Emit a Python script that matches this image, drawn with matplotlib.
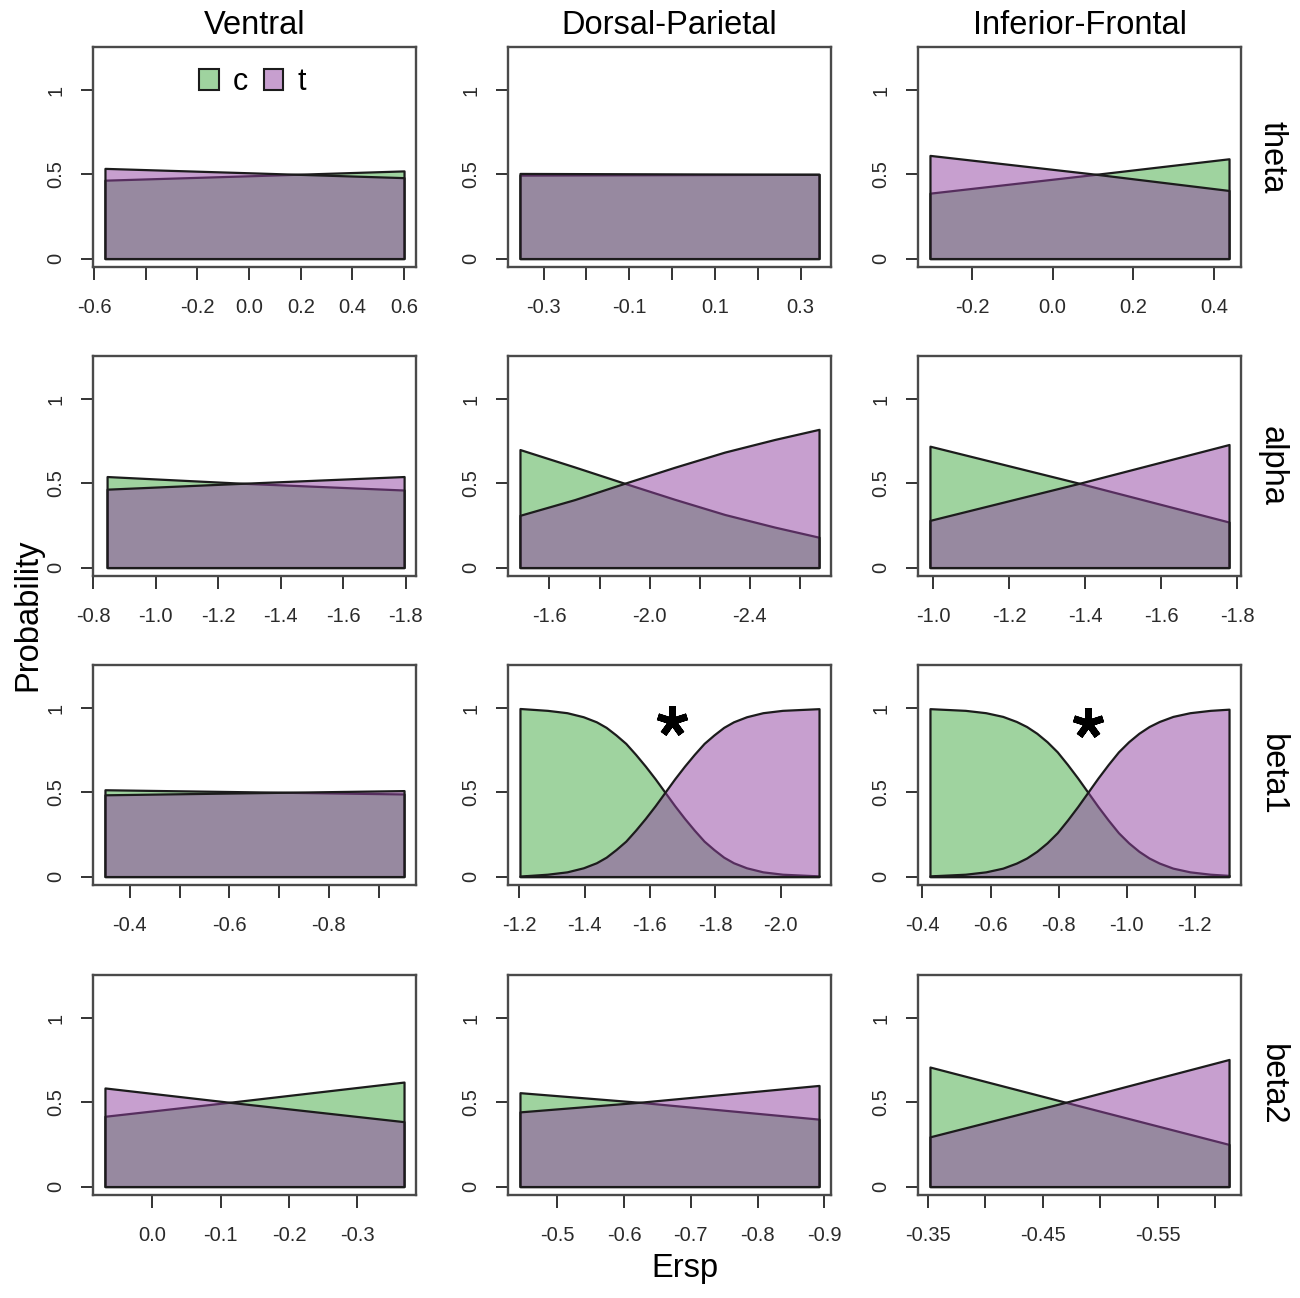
import matplotlib
matplotlib.use('Agg')
import matplotlib.pyplot as plt
from matplotlib.colors import to_rgba
from matplotlib.patches import Patch

plt.rcParams['font.family'] = ['Liberation Sans', 'DejaVu Sans']

regions = ['Ventral', 'Dorsal-Parietal', 'Inferior-Frontal']
bands = ['theta', 'alpha', 'beta1', 'beta2']

# ersp values (left to right as drawn) and P(c), P(t)
# theta
theta_v_x = [-0.558, 0.02, 0.6]
theta_v_c = [0.465, 0.492, 0.52]
theta_v_t = [0.535, 0.508, 0.48]
theta_d_x = [-0.355, 0.343]
theta_d_c = [0.495, 0.50]
theta_d_t = [0.505, 0.50]
theta_i_x = [-0.304, 0.108, 0.4375]
theta_i_c = [0.388, 0.50, 0.592]
theta_i_t = [0.612, 0.50, 0.404]
# alpha
alpha_v_x = [-0.845, -1.28, -1.795]
alpha_v_c = [0.54, 0.50, 0.46]
alpha_v_t = [0.465, 0.50, 0.54]
alpha_d_x = [-1.482, -1.70, -1.90, -2.10, -2.30, -2.50, -2.677]
alpha_d_c = [0.70, 0.597, 0.50, 0.405, 0.315, 0.24, 0.18]
alpha_d_t = [0.31, 0.403, 0.50, 0.595, 0.685, 0.76, 0.82]
alpha_i_x = [-0.991, -1.384, -1.778]
alpha_i_c = [0.72, 0.50, 0.27]
alpha_i_t = [0.28, 0.50, 0.73]
# beta1
beta1_v_x = [-0.35, -0.951]
beta1_v_c = [0.515, 0.49]
beta1_v_t = [0.485, 0.51]
beta1_d_x = [-1.202, -1.286, -1.346, -1.396, -1.436, -1.466, -1.496, -1.526,
             -1.556, -1.586, -1.616, -1.646, -1.676, -1.706, -1.736, -1.766,
             -1.796, -1.826, -1.856, -1.896, -1.946, -2.006, -2.118]
beta1_d_c = [0.997, 0.986, 0.972, 0.948, 0.918, 0.885, 0.84, 0.79,
             0.725, 0.655, 0.58, 0.50, 0.42, 0.345, 0.275, 0.21,
             0.16, 0.115, 0.082, 0.052, 0.028, 0.014, 0.004]
beta1_d_t = [0.003, 0.014, 0.028, 0.052, 0.082, 0.115, 0.16, 0.21,
             0.275, 0.345, 0.42, 0.50, 0.58, 0.655, 0.725, 0.79,
             0.84, 0.885, 0.918, 0.948, 0.972, 0.986, 0.996]
beta1_i_x = [-0.422, -0.526, -0.586, -0.636, -0.676, -0.706, -0.736, -0.766,
             -0.796, -0.826, -0.856, -0.886, -0.916, -0.946, -0.976, -1.006,
             -1.036, -1.066, -1.096, -1.136, -1.186, -1.246, -1.301]
beta1_i_c = [0.996, 0.986, 0.972, 0.95, 0.92, 0.89, 0.85, 0.80,
             0.74, 0.665, 0.585, 0.50, 0.415, 0.335, 0.26, 0.20,
             0.15, 0.11, 0.08, 0.05, 0.028, 0.014, 0.007]
beta1_i_t = [0.004, 0.014, 0.028, 0.05, 0.08, 0.11, 0.15, 0.20,
             0.26, 0.335, 0.415, 0.50, 0.585, 0.665, 0.74, 0.80,
             0.85, 0.89, 0.92, 0.95, 0.972, 0.986, 0.993]
# beta2
beta2_v_x = [0.069, -0.113, -0.368]
beta2_v_c = [0.417, 0.50, 0.62]
beta2_v_t = [0.585, 0.50, 0.385]
beta2_d_x = [-0.444, -0.623, -0.892]
beta2_d_c = [0.557, 0.50, 0.40]
beta2_d_t = [0.443, 0.50, 0.60]
beta2_i_x = [-0.352, -0.470, -0.612]
beta2_i_c = [0.709, 0.50, 0.25]
beta2_i_t = [0.295, 0.50, 0.754]

# x tick positions / labels per panel (R drops overlapping labels)
theta_v_ticks = [-0.6, -0.4, -0.2, 0.0, 0.2, 0.4, 0.6]
theta_v_labels = ['-0.6', '', '-0.2', '0.0', '0.2', '0.4', '0.6']
theta_d_ticks = [-0.3, -0.2, -0.1, 0.0, 0.1, 0.2, 0.3]
theta_d_labels = ['-0.3', '', '-0.1', '', '0.1', '', '0.3']
theta_i_ticks = [-0.2, 0.0, 0.2, 0.4]
theta_i_labels = ['-0.2', '0.0', '0.2', '0.4']
alpha_v_ticks = [-0.8, -1.0, -1.2, -1.4, -1.6, -1.8]
alpha_v_labels = ['-0.8', '-1.0', '-1.2', '-1.4', '-1.6', '-1.8']
alpha_d_ticks = [-1.6, -1.8, -2.0, -2.2, -2.4, -2.6]
alpha_d_labels = ['-1.6', '', '-2.0', '', '-2.4', '']
alpha_i_ticks = [-1.0, -1.2, -1.4, -1.6, -1.8]
alpha_i_labels = ['-1.0', '-1.2', '-1.4', '-1.6', '-1.8']
beta1_v_ticks = [-0.4, -0.5, -0.6, -0.7, -0.8, -0.9]
beta1_v_labels = ['-0.4', '', '-0.6', '', '-0.8', '']
beta1_d_ticks = [-1.2, -1.4, -1.6, -1.8, -2.0]
beta1_d_labels = ['-1.2', '-1.4', '-1.6', '-1.8', '-2.0']
beta1_i_ticks = [-0.4, -0.6, -0.8, -1.0, -1.2]
beta1_i_labels = ['-0.4', '-0.6', '-0.8', '-1.0', '-1.2']
beta2_v_ticks = [0.0, -0.1, -0.2, -0.3]
beta2_v_labels = ['0.0', '-0.1', '-0.2', '-0.3']
beta2_d_ticks = [-0.5, -0.6, -0.7, -0.8, -0.9]
beta2_d_labels = ['-0.5', '-0.6', '-0.7', '-0.8', '-0.9']
beta2_i_ticks = [-0.35, -0.40, -0.45, -0.50, -0.55, -0.60]
beta2_i_labels = ['-0.35', '', '-0.45', '', '-0.55', '']

# significant panels (row, col) and asterisk positions
sig_panels = [(2, 1), (2, 2)]
sig_x = [-1.668, -0.886]
sig_y = [0.92, 0.91]

panels = [
    [(theta_v_x, theta_v_c, theta_v_t, theta_v_ticks, theta_v_labels),
     (theta_d_x, theta_d_c, theta_d_t, theta_d_ticks, theta_d_labels),
     (theta_i_x, theta_i_c, theta_i_t, theta_i_ticks, theta_i_labels)],
    [(alpha_v_x, alpha_v_c, alpha_v_t, alpha_v_ticks, alpha_v_labels),
     (alpha_d_x, alpha_d_c, alpha_d_t, alpha_d_ticks, alpha_d_labels),
     (alpha_i_x, alpha_i_c, alpha_i_t, alpha_i_ticks, alpha_i_labels)],
    [(beta1_v_x, beta1_v_c, beta1_v_t, beta1_v_ticks, beta1_v_labels),
     (beta1_d_x, beta1_d_c, beta1_d_t, beta1_d_ticks, beta1_d_labels),
     (beta1_i_x, beta1_i_c, beta1_i_t, beta1_i_ticks, beta1_i_labels)],
    [(beta2_v_x, beta2_v_c, beta2_v_t, beta2_v_ticks, beta2_v_labels),
     (beta2_d_x, beta2_d_c, beta2_d_t, beta2_d_ticks, beta2_d_labels),
     (beta2_i_x, beta2_i_c, beta2_i_t, beta2_i_ticks, beta2_i_labels)],
]

green = to_rgba('#41a941', 0.5)
purple = to_rgba('#9141a1', 0.5)
edge = '#1c1c1c'
box_col = '#4a4a4a'

W, H = 1300, 1298
col_left = [93, 508, 918]
row_top = [47, 356, 665, 975]
box_w, box_h = 323, 220

fig = plt.figure(figsize=(W / 100, H / 100), dpi=100)

axes = {}
for r in range(4):
    for k in range(3):
        x, c, t, xt, xl = panels[r][k]
        ax = fig.add_axes([col_left[k] / W, 1 - (row_top[r] + box_h) / H,
                           box_w / W, box_h / H])
        ax.fill_between(x, 0, c, facecolor=green, edgecolor=edge, lw=1.6)
        ax.fill_between(x, 0, t, facecolor=purple, edgecolor=edge, lw=1.6)
        pad = 0.04 * (x[-1] - x[0])
        ax.set_xlim(x[0] - pad, x[-1] + pad)
        ax.set_ylim(-0.05, 1.255)
        ax.set_xticks(xt)
        ax.set_xticklabels(xl)
        ax.set_yticks([0, 0.5, 1])
        ax.set_yticklabels(['0', '0.5', '1'], rotation=90, va='center')
        ax.tick_params(axis='both', direction='out', length=9, width=1.4,
                       color='#333333', labelsize=14.5, labelcolor='#2a2a2a')
        ax.tick_params(axis='x', pad=13)
        ax.tick_params(axis='y', pad=11)
        for s in ax.spines.values():
            s.set_color(box_col)
            s.set_linewidth(1.7)
        axes[(r, k)] = ax

for (r, k), sx, sy in zip(sig_panels, sig_x, sig_y):
    axes[(r, k)].plot(sx, sy, marker=(5, 2, 0), markersize=22,
                      markeredgewidth=5, color='black', linestyle='none')

# legend in the first panel
handles = [Patch(facecolor=green, edgecolor=edge, lw=1.5, label='c'),
           Patch(facecolor=purple, edgecolor=edge, lw=1.5, label='t')]
axes[(0, 0)].legend(handles=handles, ncol=2, frameon=False, fontsize=22,
                    loc='center', bbox_to_anchor=(0.494, 0.84),
                    handlelength=0.65, handleheight=0.65, handletextpad=0.45,
                    columnspacing=0.5, borderpad=0)

for k, name in enumerate(regions):
    fig.text((col_left[k] + box_w / 2) / W, 1 - 25 / H, name,
             ha='center', va='center', fontsize=23.5)

for r, name in enumerate(bands):
    fig.text(1272 / W, 1 - (row_top[r] + box_h / 2) / H, name,
             ha='center', va='center', rotation=270, fontsize=23.5)

fig.text(28 / W, 1 - 615 / H, 'Probability', ha='center', va='center',
         rotation=90, fontsize=23.5)
fig.text(685 / W, 1 - 1268 / H, 'Ersp', ha='center', va='center', fontsize=23.5)

fig.savefig('out.png', dpi=100)
